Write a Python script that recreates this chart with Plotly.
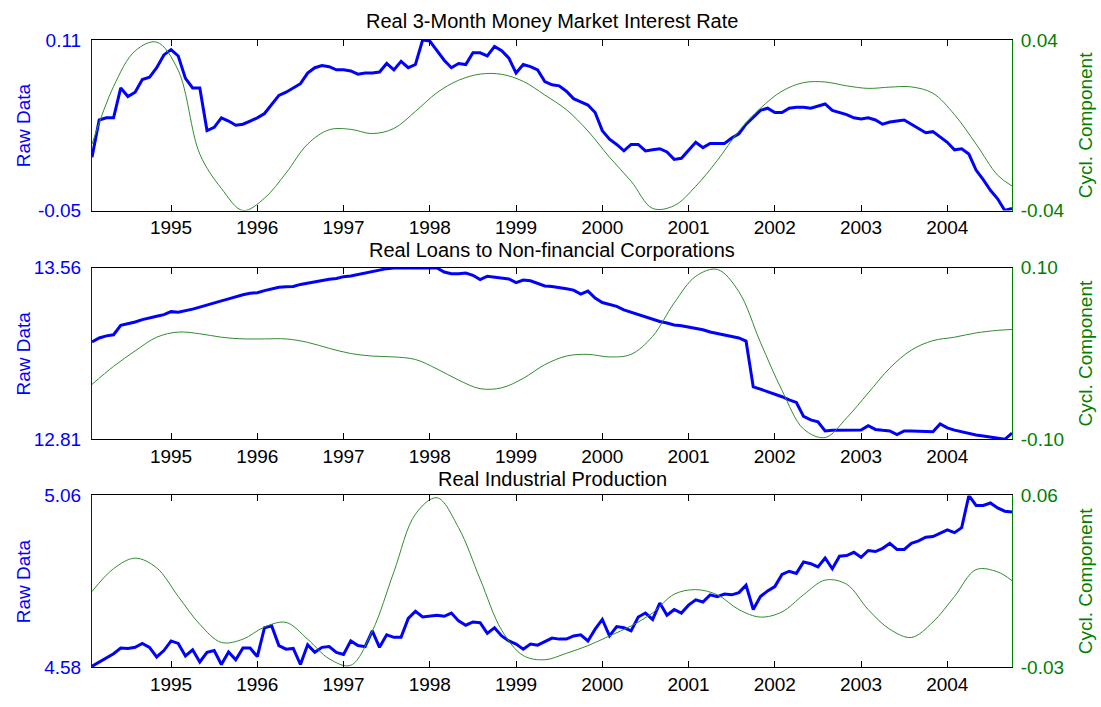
import numpy as np
import plotly.graph_objects as go

# ---------------- data (monthly, Feb 1994 .. Oct 2004) ----------------
n_months = 129
months = np.arange(n_months)
x_years = 1994 + (months + 1) / 12.0

# cyclical components read at quarterly spacing (plus last month)
cycle_idx = list(range(0, 127, 3)) + [128]
x_cycle = 1994 + (np.array(cycle_idx) + 1) / 12.0

year_ticks = list(range(1995, 2005))
year_labels = [str(y) for y in year_ticks]

titles = ["Real 3-Month Money Market Interest Rate",
          "Real Loans to Non-financial Corporations",
          "Real Industrial Production"]

rate_raw = [
    0.000, 0.035, 0.037, 0.037, 0.065, 0.057, 0.061, 0.073, 0.075, 0.084,
    0.096, 0.101, 0.095, 0.074, 0.065, 0.065, 0.025, 0.028, 0.037, 0.034,
    0.030, 0.031, 0.034, 0.037, 0.041, 0.049, 0.058, 0.061, 0.065, 0.069,
    0.079, 0.084, 0.086, 0.085, 0.082, 0.082, 0.081, 0.078, 0.079, 0.079,
    0.080, 0.088, 0.082, 0.090, 0.084, 0.087, 0.110, 0.109, 0.100, 0.091,
    0.084, 0.088, 0.087, 0.098, 0.098, 0.095, 0.104, 0.100, 0.093, 0.079,
    0.087, 0.085, 0.082, 0.071, 0.068, 0.067, 0.062, 0.055, 0.052, 0.049,
    0.042, 0.025, 0.017, 0.012, 0.006, 0.012, 0.012, 0.006, 0.007, 0.008,
    0.005, -0.002, -0.001, 0.006, 0.014, 0.009, 0.013, 0.013, 0.013, 0.018,
    0.022, 0.031, 0.038, 0.044, 0.046, 0.042, 0.042, 0.046, 0.047, 0.047,
    0.046, 0.048, 0.050, 0.044, 0.042, 0.040, 0.037, 0.036, 0.037, 0.035,
    0.031, 0.033, 0.034, 0.035, 0.031, 0.027, 0.023, 0.024, 0.019, 0.014,
    0.007, 0.008, 0.003, -0.012, -0.021, -0.031, -0.039, -0.050, -0.048]

rate_cycle = [
    -0.0088, 0.0182, 0.0349, 0.0390, 0.0257, -0.0135, -0.0296, -0.0400, -0.0342, -0.0224,
    -0.0088, -0.0021, -0.0019, -0.0039, -0.0015, 0.0065, 0.0153, 0.0211, 0.0240, 0.0239,
    0.0206, 0.0142, 0.0073, -0.0027, -0.0150, -0.0262, -0.0390, -0.0377, -0.0286, -0.0165,
    -0.0027, 0.0080, 0.0160, 0.0200, 0.0203, 0.0185, 0.0173, 0.0179, 0.0180, 0.0150,
    0.0050, -0.0088, -0.0234, -0.0285]

loans_raw = [
    13.236, 13.253, 13.262, 13.267, 13.308, 13.315, 13.323, 13.333, 13.342, 13.348,
    13.355, 13.368, 13.365, 13.371, 13.379, 13.388, 13.398, 13.407, 13.415, 13.424,
    13.434, 13.442, 13.448, 13.451, 13.460, 13.468, 13.475, 13.477, 13.478, 13.487,
    13.493, 13.500, 13.506, 13.510, 13.513, 13.521, 13.524, 13.530, 13.537, 13.544,
    13.551, 13.556, 13.559, 13.559, 13.559, 13.560, 13.560, 13.560, 13.559, 13.541,
    13.534, 13.534, 13.537, 13.527, 13.508, 13.523, 13.520, 13.517, 13.511, 13.495,
    13.506, 13.503, 13.491, 13.480, 13.478, 13.474, 13.468, 13.462, 13.445, 13.458,
    13.427, 13.408, 13.399, 13.391, 13.376, 13.366, 13.355, 13.343, 13.335, 13.325,
    13.318, 13.310, 13.306, 13.300, 13.295, 13.289, 13.279, 13.273, 13.267, 13.259,
    13.253, 13.239, 13.039, 13.029, 13.018, 13.008, 12.996, 12.982, 12.971, 12.910,
    12.895, 12.886, 12.846, 12.849, 12.849, 12.849, 12.849, 12.850, 12.869, 12.853,
    12.849, 12.846, 12.830, 12.846, 12.846, 12.846, 12.843, 12.843, 12.877, 12.860,
    12.850, 12.842, 12.834, 12.829, 12.824, 12.819, 12.814, 12.810, 12.837]

loans_cycle = [
    -0.036, -0.015, 0.003, 0.019, 0.025, 0.023, 0.019, 0.017, 0.017, 0.017,
    0.013, 0.006, 0.000, -0.003, -0.004, -0.007, -0.018, -0.031, -0.041, -0.040,
    -0.029, -0.013, -0.003, -0.001, -0.004, -0.001, 0.020, 0.059, 0.090, 0.098,
    0.072, 0.013, -0.043, -0.088, -0.098, -0.075, -0.046, -0.017, 0.004, 0.015,
    0.019, 0.024, 0.027, 0.028]

indprod_raw = [
    4.582, 4.594, 4.607, 4.617, 4.633, 4.632, 4.635, 4.646, 4.635, 4.608,
    4.626, 4.653, 4.646, 4.611, 4.628, 4.594, 4.621, 4.626, 4.587, 4.622,
    4.600, 4.633, 4.633, 4.609, 4.690, 4.695, 4.640, 4.630, 4.632, 4.587,
    4.642, 4.621, 4.635, 4.637, 4.621, 4.615, 4.653, 4.640, 4.637, 4.681,
    4.635, 4.670, 4.663, 4.663, 4.716, 4.736, 4.720, 4.722, 4.725, 4.722,
    4.731, 4.709, 4.697, 4.706, 4.704, 4.674, 4.690, 4.667, 4.653, 4.644,
    4.630, 4.644, 4.641, 4.651, 4.661, 4.658, 4.658, 4.667, 4.670, 4.653,
    4.686, 4.713, 4.667, 4.693, 4.690, 4.681, 4.720, 4.731, 4.713, 4.759,
    4.725, 4.741, 4.731, 4.753, 4.768, 4.762, 4.782, 4.777, 4.784, 4.782,
    4.788, 4.809, 4.741, 4.777, 4.793, 4.805, 4.839, 4.848, 4.842, 4.874,
    4.869, 4.860, 4.885, 4.855, 4.890, 4.892, 4.901, 4.887, 4.906, 4.903,
    4.912, 4.926, 4.909, 4.909, 4.926, 4.933, 4.943, 4.945, 4.954, 4.964,
    4.956, 4.970, 5.060, 5.032, 5.032, 5.039, 5.025, 5.016, 5.014]

indprod_cycle = [
    0.0096, 0.0216, 0.0271, 0.0220, 0.0070, -0.0076, -0.0171, -0.0154, -0.0090, -0.0066,
    -0.0154, -0.0257, -0.0291, -0.0111, 0.0199, 0.0502, 0.0588, 0.0431, 0.0161, -0.0107,
    -0.0240, -0.0262, -0.0228, -0.0188, -0.0137, -0.0085, -0.0016, 0.0082, 0.0106, 0.0079,
    0.0001, -0.0038, -0.0011, 0.0079, 0.0156, 0.0134, 0.0001, -0.0102, -0.0145, -0.0064,
    0.0070, 0.0211, 0.0199, 0.0153]

raw_ranges = [(-0.05, 0.11), (12.81, 13.56), (4.58, 5.06)]
raw_labels = [("-0.05", "0.11"), ("12.81", "13.56"), ("4.58", "5.06")]
cyc_ranges = [(-0.04, 0.04), (-0.10, 0.10), (-0.03, 0.06)]
cyc_labels = [("-0.04", "0.04"), ("-0.10", "0.10"), ("-0.03", "0.06")]

raw_series = [rate_raw, loans_raw, indprod_raw]
cyc_series = [rate_cycle, loans_cycle, indprod_cycle]

# ---------------- styling ----------------
BLUE = "rgb(0,0,255)"
GREEN_LINE = "rgb(50,140,50)"
GREEN_TXT = "rgb(0,128,0)"
FONT = "Arial, 'Liberation Sans', sans-serif"

W, H = 1101, 707
ML, MR, MT, MB = 92, 89, 40, 31
plot_h = H - MT - MB
plot_w = W - ML - MR

# panel pixel extents (top, bottom)
panels_px = [(40, 213), (271, 445), (502, 676)]
title_py = [21, 253, 485]


def py2paper(py):
    return (H - MB - py) / plot_h


def px2paper(px):
    return (px - ML) / plot_w


fig = go.Figure()
layout = dict(
    width=W, height=H,
    margin=dict(l=ML, r=MR, t=MT, b=MB, pad=0),
    paper_bgcolor="white", plot_bgcolor="white",
    showlegend=False,
    font=dict(family=FONT, size=19, color="black"),
)

annotations = []
for k in range(3):
    xa = "x" if k == 0 else f"x{k + 1}"
    ya_raw = "y" if k == 0 else f"y{2 * k + 1}"
    ya_cyc = f"y{2 * k + 2}"
    top, bot = panels_px[k]
    dom = [py2paper(bot), py2paper(top)]

    fig.add_trace(go.Scatter(x=x_years, y=raw_series[k], mode="lines",
                             line=dict(color=BLUE, width=3),
                             xaxis=xa, yaxis=ya_raw, cliponaxis=False))
    fig.add_trace(go.Scatter(x=x_cycle, y=cyc_series[k], mode="lines",
                             line=dict(color=GREEN_LINE, width=1, shape="spline",
                                       smoothing=1.0),
                             xaxis=xa, yaxis=ya_cyc))

    xkey = "xaxis" if k == 0 else f"xaxis{k + 1}"
    layout[xkey] = dict(
        domain=[0, 1], anchor=ya_raw, range=[1994 + 1 / 12, 2004.75],
        tickmode="array", tickvals=year_ticks, ticktext=year_labels,
        ticks="inside", ticklen=6, tickcolor="black", tickwidth=1,
        showline=True, linecolor="black", linewidth=1, mirror="ticks",
        showgrid=False, zeroline=False, ticklabelstandoff=0,
        tickfont=dict(size=19, color="black", family=FONT),
    )
    yraw_key = "yaxis" if k == 0 else f"yaxis{2 * k + 1}"
    layout[yraw_key] = dict(
        domain=dom, anchor=xa, range=list(raw_ranges[k]),
        tickmode="array", tickvals=list(raw_ranges[k]), ticktext=list(raw_labels[k]),
        ticks="", showline=True, linecolor=BLUE, linewidth=1,
        showgrid=False, zeroline=False, ticklabelstandoff=6,
        tickfont=dict(size=19, color=BLUE, family=FONT),
    )
    ycyc_key = f"yaxis{2 * k + 2}"
    layout[ycyc_key] = dict(
        overlaying=ya_raw, side="right", anchor=xa, range=list(cyc_ranges[k]),
        tickmode="array", tickvals=list(cyc_ranges[k]), ticktext=list(cyc_labels[k]),
        ticks="", showline=True, linecolor=GREEN_TXT, linewidth=1,
        showgrid=False, zeroline=False, ticklabelstandoff=4,
        tickfont=dict(size=19, color=GREEN_TXT, family=FONT),
    )

    mid = (top + bot) / 2
    annotations.append(dict(text=titles[k], xref="paper", yref="paper",
                            x=0.5, y=py2paper(title_py[k]), xanchor="center",
                            yanchor="middle", showarrow=False,
                            font=dict(size=20, color="black", family=FONT)))
    annotations.append(dict(text="Raw Data", xref="paper", yref="paper",
                            x=px2paper(23), y=py2paper(mid), xanchor="center",
                            yanchor="middle", textangle=-90, showarrow=False,
                            font=dict(size=19, color=BLUE, family=FONT)))
    annotations.append(dict(text="Cycl. Component", xref="paper", yref="paper",
                            x=px2paper(1085), y=py2paper(mid), xanchor="center",
                            yanchor="middle", textangle=-90, showarrow=False,
                            font=dict(size=19, color=GREEN_TXT, family=FONT)))

layout["annotations"] = annotations
fig.update_layout(**layout)
fig.write_html(
    "out.html",
    config={"displayModeBar": False},
    post_script="document.body.style.margin='0';document.body.style.overflow='hidden';",
)
